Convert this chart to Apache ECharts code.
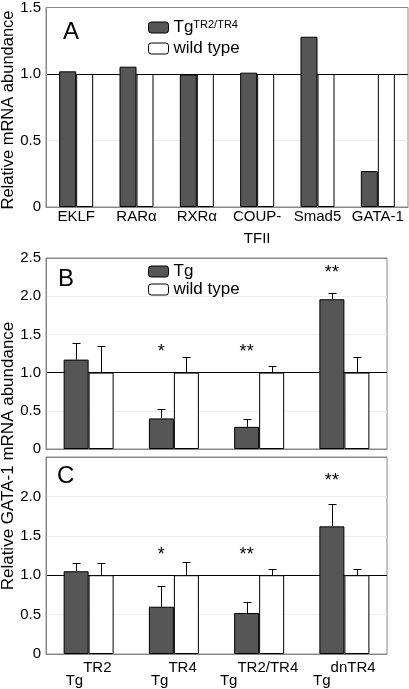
<!DOCTYPE html>
<html><head><meta charset="utf-8">
<script src="https://cdn.jsdelivr.net/npm/echarts@6/dist/echarts.min.js"></script>
<style>html,body{margin:0;padding:0;background:#fff}#c{width:409px;height:689px}</style>
</head><body><div id="c"></div>
<script>
// ---- data ----
const catsA = ['EKLF', 'RARα', 'RXRα', 'COUP-\nTFII', 'Smad5', 'GATA-1'];
const tgA = [1.02, 1.055, 0.995, 1.01, 1.28, 0.27];
const wtA = [1, 1, 1, 1, 1, 1];

const catsBC = ['TR2', 'TR4', 'TR2/TR4', 'dnTR4']; // superscripts after "Tg"
const tgB = [1.17, 0.40, 0.29, 1.96];
const tgBErr = [1.39, 0.52, 0.39, 2.04];
const wtB = [1, 1, 1, 1];
const wtBErr = [1.35, 1.20, 1.08, 1.20];
const sigB = ['', '*', '**', '**'];
const sigBY = [null, 1.27, 1.27, 2.30];

const tgC = [1.05, 0.60, 0.52, 1.62];
const tgCErr = [1.16, 0.86, 0.66, 1.90];
const wtC = [1, 1, 1, 1];
const wtCErr = [1.16, 1.17, 1.08, 1.08];
const sigC = ['', '*', '**', '**'];
const sigCY = [null, 1.26, 1.26, 2.19];

const ticksA = {min: 0, max: 1.5, interval: 0.5};
const ticksBC = {min: 0, max: 2.5, interval: 0.5};

// ---- styling ----
const FONT = "'Liberation Sans', Arial, Helvetica, sans-serif";
const DARK = '#565656';
const chart = echarts.init(document.getElementById('c'));

function fmtY(v) { return v === 0 ? '0' : v.toFixed(1); }

function errRender(offset) {
  return function (params, api) {
    const b = api.coord([api.value(0), api.value(2)]);
    const t = api.coord([api.value(0), api.value(1)]);
    const cx = Math.round(b[0] + offset) + 0.5;
    const ty = Math.round(t[1]) + 0.5;
    return {type: 'group', children: [
      {type: 'line', shape: {x1: cx, y1: b[1], x2: cx, y2: ty}, style: {stroke: '#000', lineWidth: 1}},
      {type: 'line', shape: {x1: cx - 4, y1: ty, x2: cx + 4, y2: ty}, style: {stroke: '#000', lineWidth: 1}}
    ]};
  };
}
const sigText = {starsB: sigB, starsC: sigC};
function starRender(offset) {
  return function (params, api) {
    const p = api.coord([api.value(0), api.value(1)]);
    return {type: 'text', x: p[0] + offset, y: p[1],
      style: {text: sigText[params.seriesName][params.dataIndex], font: '18px ' + FONT,
        textAlign: 'center', textVerticalAlign: 'middle', fill: '#000'}};
  };
}

function yAxis(gi, t, colors, hideTop) {
  return {type: 'value', gridIndex: gi, min: t.min, max: t.max, interval: t.interval,
    axisLine: {show: true, lineStyle: {color: '#888'}}, axisTick: {show: false},
    axisLabel: {color: '#000', fontSize: 15, fontFamily: FONT, margin: 5,
      formatter: v => (hideTop && v === t.max) ? '' : fmtY(v)},
    splitLine: {show: true, lineStyle: {color: colors, width: 1}}};
}
function barSeries(name, gi, data, color, w) {
  return {type: 'bar', name: name, xAxisIndex: gi, yAxisIndex: gi, data: data, barWidth: w, barGap: '0%',
    itemStyle: {color: color, borderColor: '#000', borderWidth: 1}, z: 3};
}
function errSeries(gi, tops, bases, offset) {
  return {type: 'custom', xAxisIndex: gi, yAxisIndex: gi, renderItem: errRender(offset), z: 4,
    data: tops.map((v, i) => [i, v, bases[i]])};
}
function starSeries(name, gi, ys, offset) {
  return {type: 'custom', name: name, xAxisIndex: gi, yAxisIndex: gi, renderItem: starRender(offset), z: 5,
    data: ys.map((v, i) => [i, v === null ? 0 : v])};
}

const gridLinesA = ['#eee', '#eee', '#000', '#888'];
const gridLinesBC = ['#eee', '#eee', '#000', '#eee', '#eee', '#888'];

const option = {
  animation: false,
  backgroundColor: '#fff',
  textStyle: {fontFamily: FONT},
  grid: [
    {left: 46, top: 7, width: 362, height: 200, show: true, borderColor: '#888', backgroundColor: '#fff'},
    {left: 46, top: 258, width: 341, height: 191, show: true, borderColor: '#888', backgroundColor: '#fff'},
    {left: 46, top: 457, width: 341, height: 197, show: true, borderColor: '#888', backgroundColor: '#fff'}
  ],
  xAxis: [
    {type: 'category', gridIndex: 0, data: catsA, axisTick: {show: false},
      axisLine: {lineStyle: {color: '#888'}},
      axisLabel: {color: '#000', fontSize: 15, fontFamily: FONT, margin: -1, lineHeight: 22, interval: 0}},
    {type: 'category', gridIndex: 1, data: catsBC, axisTick: {show: false},
      axisLine: {lineStyle: {color: '#888'}}, axisLabel: {show: false}},
    {type: 'category', gridIndex: 2, data: catsBC, axisTick: {show: false},
      axisLine: {lineStyle: {color: '#888'}},
      axisLabel: {color: '#000', margin: 6, interval: 0,
        formatter: v => '{g|Tg}{s|' + v + '}',
        rich: {
          g: {fontSize: 15, fontFamily: FONT, lineHeight: 28, verticalAlign: 'bottom', color: '#000'},
          s: {fontSize: 15, fontFamily: FONT, lineHeight: 15, verticalAlign: 'top', color: '#000'}
        }}}
  ],
  yAxis: [
    yAxis(0, ticksA, gridLinesA, false),
    yAxis(1, ticksBC, gridLinesBC, false),
    yAxis(2, ticksBC, gridLinesBC, true)
  ],
  legend: [
    {left: 143, top: 14, orient: 'vertical', itemWidth: 20, itemHeight: 11, itemGap: 4,
      data: ['TgA', 'wild type'], selectedMode: false,
      itemStyle: {borderColor: '#000', borderWidth: 1},
      formatter: n => n === 'TgA' ? '{m|Tg}{s|TR2/TR4}' : '{m|wild type}',
      textStyle: {color: '#000', fontSize: 17, fontFamily: FONT,
        rich: {m: {fontSize: 17, fontFamily: FONT, lineHeight: 17, verticalAlign: 'bottom'},
               s: {fontSize: 11, fontFamily: FONT, lineHeight: 11, verticalAlign: 'top'}}}},
    {left: 143, top: 258, orient: 'vertical', itemWidth: 20, itemHeight: 11, itemGap: 1,
      data: ['Tg', 'wild type'], selectedMode: false,
      itemStyle: {borderColor: '#000', borderWidth: 1},
      textStyle: {color: '#000', fontSize: 17, fontFamily: FONT}}
  ],
  graphic: [
    {type: 'text', x: 63, y: 32, style: {text: 'A', font: '24px ' + FONT, textVerticalAlign: 'middle', fill: '#000'}},
    {type: 'text', x: 58, y: 279, style: {text: 'B', font: '24px ' + FONT, textVerticalAlign: 'middle', fill: '#000'}},
    {type: 'text', x: 57, y: 476, style: {text: 'C', font: '24px ' + FONT, textVerticalAlign: 'middle', fill: '#000'}},
    {type: 'text', x: 8, y: 110, rotation: Math.PI / 2,
      style: {text: 'Relative mRNA abundance', font: '16.5px ' + FONT, textAlign: 'center', textVerticalAlign: 'middle', fill: '#000'}},
    {type: 'text', x: 8, y: 456, rotation: Math.PI / 2,
      style: {text: 'Relative GATA-1 mRNA abundance', font: '17px ' + FONT, textAlign: 'center', textVerticalAlign: 'middle', fill: '#000'}}
  ],
  series: [
    barSeries('TgA', 0, tgA, DARK, 17),
    barSeries('wild type', 0, wtA, '#fff', 17),
    barSeries('Tg', 1, tgB, DARK, 25),
    barSeries('wild type', 1, wtB, '#fff', 25),
    errSeries(1, tgBErr, tgB, -12.5),
    errSeries(1, wtBErr, wtB, 12.5),
    starSeries('starsB', 1, sigBY, -12.5),
    barSeries('Tg', 2, tgC, DARK, 25),
    barSeries('wild type', 2, wtC, '#fff', 25),
    errSeries(2, tgCErr, tgC, -12.5),
    errSeries(2, wtCErr, wtC, 12.5),
    starSeries('starsC', 2, sigCY, -12.5)
  ]
};
chart.setOption(option);
</script></body></html>
